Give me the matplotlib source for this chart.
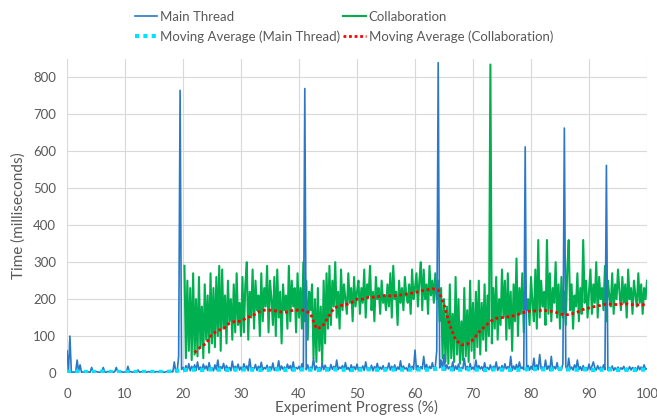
import numpy as np
import matplotlib
matplotlib.use('Agg')
import matplotlib.pyplot as plt

#---data--------------------------------------------

# main thread, one value every 0.25 %
main_vals = [
    60, 3, 100, 2, 3, 2, 4, 35, 3, 22, 2, 3, 2, 4, 2, 3, 2, 15, 3, 2,
    4, 3, 2, 3, 2, 15, 3, 2, 4, 3, 2, 3, 2, 4, 15, 3, 2, 4, 3, 2,
    3, 2, 18, 3, 4, 2, 3, 2, 3, 8, 2, 3, 4, 2, 3, 2, 4, 3, 2, 3,
    2, 3, 4, 3, 2, 4, 3, 2, 3, 4, 3, 5, 4, 3, 30, 4, 5, 45, 765, 10,
    15, 5, 20, 8, 25, 6, 18, 10, 22, 7, 30, 9, 16, 6, 24, 11, 19, 7, 28, 10,
    14, 6, 22, 9, 35, 8, 17, 12, 26, 7, 20, 10, 15, 6, 32, 9, 18, 11, 24, 8,
    16, 7, 25, 10, 19, 6, 38, 9, 14, 12, 23, 7, 18, 10, 29, 8, 15, 11, 21, 6,
    17, 9, 27, 7, 14, 11, 33, 8, 19, 10, 16, 6, 24, 12, 20, 7, 30, 9, 15, 11,
    18, 8, 25, 10, 770, 9, 22, 7, 16, 11, 40, 8, 19, 10, 15, 6, 26, 9, 21, 12,
    14, 7, 23, 10, 18, 8, 35, 9, 16, 12, 20, 7, 28, 10, 15, 6, 22, 11, 17, 9,
    24, 8, 15, 11, 19, 7, 30, 10, 14, 9, 21, 6, 17, 12, 26, 8, 16, 10, 20, 7,
    15, 11, 27, 8, 18, 9, 22, 7, 16, 10, 33, 8, 19, 11, 14, 6, 25, 9, 18, 10,
    62, 9, 20, 8, 17, 11, 45, 10, 23, 7, 18, 12, 28, 9, 16, 60, 840, 14, 35, 10,
    50, 8, 22, 11, 17, 9, 30, 7, 19, 10, 24, 8, 15, 12, 40, 9, 18, 7, 26, 10,
    16, 9, 35, 8, 20, 11, 17, 7, 28, 10, 15, 9, 22, 8, 18, 11, 30, 7, 16, 10,
    20, 8, 25, 11, 17, 9, 45, 7, 19, 10, 23, 8, 30, 12, 16, 9, 612, 10, 20, 8,
    18, 10, 40, 7, 22, 9, 50, 11, 16, 8, 35, 10, 19, 7, 45, 9, 17, 11, 28, 8,
    15, 9, 25, 663, 18, 7, 40, 10, 16, 8, 22, 11, 35, 9, 17, 7, 20, 10, 15, 8,
    24, 9, 18, 30, 14, 8, 20, 10, 16, 7, 22, 9, 562, 8, 15, 10, 19, 7, 14, 9,
    16, 8, 14, 10, 18, 7, 13, 9, 17, 8, 15, 11, 14, 7, 19, 9, 16, 8, 22, 10,
    12,
]
main_x = np.arange(len(main_vals)) * 0.25

# collaboration, one value every 0.25 % starting at 20.25
collab_vals = [
    290, 40, 250, 60, 230, 35, 270, 50, 200, 45, 260, 70, 180, 40, 240, 90, 210, 55, 270, 80,
    230, 70, 260, 100, 290, 60, 280, 120, 210, 80, 250, 140, 200, 90, 240, 110, 270, 130, 190, 100,
    260, 110, 240, 300, 90, 220, 150, 280, 120, 250, 170, 210, 100, 270, 140, 230, 180, 290, 110, 250,
    200, 130, 260, 100, 280, 150, 220, 80, 240, 170, 210, 120, 290, 140, 250, 180, 230, 110, 270, 150,
    230, 120, 300, 140, 250, 90, 220, 170, 240, 40, 200, 30, 230, 60, 180, 25, 250, 80, 270, 120,
    290, 130, 250, 180, 300, 150, 220, 120, 280, 170, 240, 200, 160, 270, 190, 230, 140, 260, 180, 220,
    250, 160, 230, 190, 280, 150, 240, 210, 290, 170, 220, 140, 260, 200, 230, 160, 250, 190, 210, 170,
    240, 180, 270, 150, 290, 200, 220, 130, 250, 190, 230, 170, 260, 210, 190, 240, 160, 280, 200, 230,
    270, 180, 250, 300, 170, 280, 200, 240, 160, 290, 210, 250, 190, 270, 200, 250, 140, 230, 40, 200,
    30, 180, 25, 240, 40, 160, 30, 260, 50, 200, 25, 140, 35, 230, 45, 170, 30, 250, 60, 190,
    40, 220, 70, 250, 50, 190, 90, 240, 60, 210, 100, 835, 80, 230, 120, 260, 90, 200, 130, 280,
    150, 250, 90, 270, 120, 220, 60, 240, 140, 310, 100, 230, 160, 270, 110, 250, 170, 200, 130, 260,
    190, 140, 280, 120, 360, 150, 250, 180, 220, 130, 360, 160, 270, 140, 230, 190, 300, 150, 240, 120,
    260, 150, 220, 130, 280, 360, 170, 240, 120, 210, 180, 270, 140, 230, 160, 360, 190, 250, 150, 220,
    280, 160, 240, 190, 300, 150, 260, 200, 230, 170, 290, 140, 250, 210, 180, 270, 160, 240, 200, 280,
    220, 170, 260, 190, 240, 150, 280, 200, 230, 160, 250, 210, 180, 270, 190, 240, 160, 230, 200, 250,
]
collab_x = 20.25 + np.arange(len(collab_vals)) * 0.25

# moving averages, one value per percent
ma_main = [
    3, 3, 4, 3, 3, 3, 4, 3, 3, 3, 3, 3, 3, 3, 3, 3, 3, 3, 4, 6,
    8, 9, 9, 8, 9, 10, 9, 9, 8, 9, 10, 9, 9, 8, 9, 9, 10, 9, 8, 9,
    9, 10, 9, 8, 9, 9, 10, 9, 9, 8, 9, 9, 10, 9, 8, 9, 9, 10, 9, 9,
    10, 9, 9, 10, 12, 11, 10, 9, 9, 10, 9, 9, 8, 9, 10, 9, 9, 8, 9, 10,
    10, 11, 10, 9, 10, 11, 10, 9, 9, 10, 9, 8, 9, 9, 10, 8, 8, 9, 8, 9, 9,
]
ma_main_x = np.arange(len(ma_main))

ma_collab = [
    55, 70, 80, 105, 115, 120, 135, 140, 140, 150, 155, 165, 170, 170, 168, 165, 165, 170, 170, 170,
    160, 120, 125, 150, 175, 182, 185, 190, 200, 200, 205, 205, 208, 210, 208, 210, 212, 215, 218, 222,
    225, 228, 225, 185, 130, 90, 76, 78, 90, 110, 125, 140, 148, 150, 152, 155, 160, 165, 168, 168,
    170, 168, 166, 160, 157, 160, 165, 172, 176, 180, 183, 187, 186, 185, 188, 186, 184, 185, 184,
]
ma_collab_x = 22 + np.arange(len(ma_collab))

#---plot--------------------------------------------

plt.rcParams['font.family'] = ['Lato', 'DejaVu Sans']
grey = '#595959'

fig = plt.figure(figsize=(6.57, 4.19), dpi=100)
ax = fig.add_axes([67/657, 1 - 373/419, 580/657, 314/419])

ax.plot(collab_x, collab_vals, color='#00b050', lw=1.5, label='Collaboration', zorder=3)
ax.plot(main_x, main_vals, color='#2a78c6', lw=1.2, label='Main Thread', zorder=4)
ax.plot(ma_main_x, ma_main, color='#00e5ff', lw=3.0, linestyle=(0, (1, 1)),
        label='Moving Average (Main Thread)', zorder=5)
ax.plot(ma_collab_x, ma_collab, color='#ff0000', lw=2.0, linestyle=(0, (1, 1)),
        label='Moving Average (Collaboration)', zorder=6)

ax.set_xlim(0, 100)
ax.set_ylim(0, 850)
ax.set_xticks(range(0, 101, 10))
ax.set_yticks(range(0, 801, 100))
ax.grid(True, color='#d9d9d9', lw=0.8)
ax.set_axisbelow(True)
for s in ax.spines.values():
    s.set_visible(False)
ax.tick_params(length=0, labelsize=9.5, labelcolor=grey)
ax.tick_params(axis='y', pad=8)
ax.tick_params(axis='x', pad=11)

ax.set_xlabel('Experiment Progress (%)', fontsize=11, color=grey, labelpad=0)
ax.set_ylabel('Time (milliseconds)', fontsize=11, color=grey, labelpad=5)

# legend is filled column by column
h, l = ax.get_legend_handles_labels()
order = [1, 2, 0, 3]
fig.legend([h[i] for i in order], [l[i] for i in order], ncol=2, frameon=False,
           loc='upper left', bbox_to_anchor=(128/657, 1 - 4/419), fontsize=9.5,
           labelcolor=grey, handlelength=1.7, handletextpad=0.25,
           columnspacing=0.2, labelspacing=0.6, borderpad=0)

fig.savefig('out.png', dpi=100)
